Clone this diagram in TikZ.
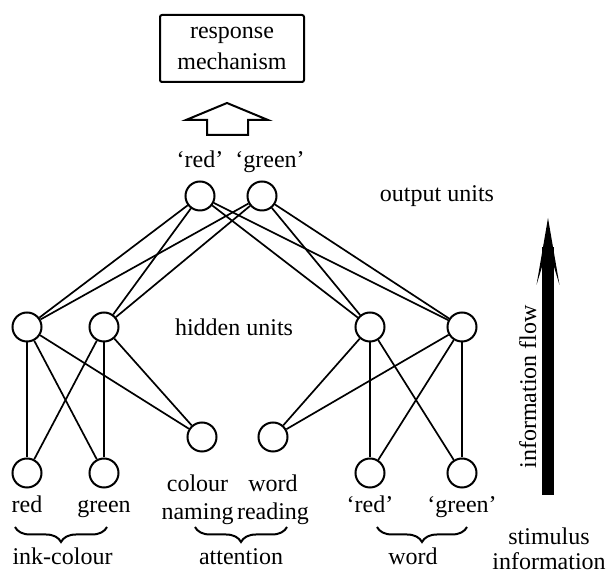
\documentclass[tikz,border=0pt]{standalone}
\usepackage{fontspec}
\setmainfont{Liberation Serif}
\usetikzlibrary{positioning,arrows.meta,decorations.pathreplacing}

\begin{document}
\begin{tikzpicture}[x=1pt,y=1pt,node distance=73pt,on grid,
    every node/.style={font=\fontsize{12}{14}\selectfont},
    unit/.style={circle,draw,line width=1pt,minimum size=14.5pt,inner sep=0pt},
    lbl/.style={inner sep=0pt,text height=8pt,text depth=2.5pt},
    link/.style={line width=0.85pt},
    grp/.style={decorate,decoration={brace,mirror,amplitude=7.5pt},line width=1pt}]
  \useasboundingbox (0,0) rectangle (303,286.5);
  % hidden units
  \node[unit] (h1) at (13.5,123) {};
  \node[unit] (h2) [right=38.5pt of h1] {};
  \node[unit] (h3) at (185,123) {};
  \node[unit] (h4) [right=46pt of h3] {};
  % stimulus units
  \node[unit] (i1) [below=of h1] {};
  \node[unit] (i2) [below=of h2] {};
  \node[unit] (w1) [below=of h3] {};
  \node[unit] (w2) [below=of h4] {};
  \node[unit] (cn) at (101,68) {};
  \node[unit] (wr) [right=35.5pt of cn] {};
  % output units
  \node[unit] (o1) at (100,188.5) {};
  \node[unit] (o2) [right=31pt of o1] {};
  \node[lbl] (ored) [above=16.75pt of o1] {‘red’};
  \node[lbl] (ogreen) [above=16.75pt of o2, xshift=4pt] {‘green’};
  \node[lbl] (ired) [below=17.25pt of i1] {red};
  \node[lbl] (igreen) [below=17.25pt of i2] {green};
  \node[lbl] (wred) [below=17.25pt of w1] {‘red’};
  \node[lbl] (wgreen) [below=17.25pt of w2] {‘green’};
  \node[align=center,inner sep=0pt,anchor=north] (cnlbl) at (98.75,49.2) {colour\\naming};
  \node[align=center,inner sep=0pt,anchor=north] (wrlbl) at (136.5,49.2) {word\\reading};
  \path[link]
  (o1)
  edge (h1) edge (h2) edge (h3) edge (h4)
  (o2)
  edge (h1) edge (h2) edge (h3) edge (h4)
  (h1)
  edge (i1) edge (i2) edge (cn)
  (h2)
  edge (i1) edge (i2) edge (cn)
  (h3)
  edge (wr) edge (w1) edge (w2)
  (h4)
  edge (wr) edge (w1) edge (w2)
  ;
  % response
  \node[draw,line width=1pt,rounded corners=1pt,minimum width=72pt,minimum height=33.5pt,align=center] (resp) at (116,262.25) {response\\[1.5pt]mechanism};
  \draw[line width=1pt] (103.5,219) -- (103.5,226.5) -- (93,226.5) -- (113.5,235)
    -- (134,226.5) -- (124,226.5) -- (124,219) -- cycle;
  % information flow
  \coordinate (flowbot) at (274,39);
  \coordinate (flowtop) at (274,177.5);
  \draw[line width=6pt,-{Stealth[length=33.5pt,width=11.5pt,inset=19pt,line width=0pt]}] (flowbot) -- (flowtop);
  \node[rotate=90,anchor=base] (flowlbl) at (268,93) {information flow};
  % layer names
  \node[anchor=base] (outlbl) at (218.5,185.5) {output units};
  \node[anchor=base] (hidlbl) at (117,118.5) {hidden units};
  % groups
  \draw[grp] (7.5,23) -- (53.5,23);
  \draw[grp] (97.5,23) -- (143.5,23);
  \draw[grp] (188.5,23) -- (233.5,23);
  \node[anchor=base] (inklbl) at (31.25,4) {ink-colour};
  \node[anchor=base] (attlbl) at (120.5,4) {attention};
  \node[anchor=base] (wordlbl) at (206.5,4) {word};
  \node[align=center,inner sep=0pt,anchor=south,font=\fontsize{12}{12.5}\selectfont] (stimlbl) at (274.5,1.5) {stimulus\\information};
\end{tikzpicture}
\end{document}
